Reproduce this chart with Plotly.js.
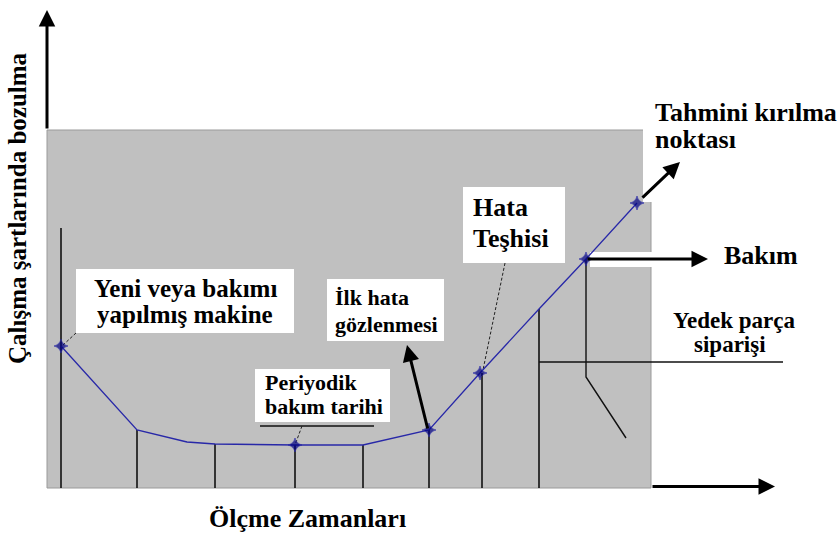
<!DOCTYPE html>
<html>
<head>
<meta charset="utf-8">
<script src="https://cdn.plot.ly/plotly-3.0.1.min.js"></script>
</head>
<body style="margin:0;padding:0;background:#fff;">
<div id="chart"></div>
<script>
// ---- data (units: time along x, degradation along y) ----
const curveX = [1.4, 9.0, 14.0, 16.8, 24.8, 31.6, 38.2, 43.3, 49.2, 53.9, 59.0];
const curveY = [14.2, 5.8, 4.6, 4.4, 4.3, 4.3, 5.8, 11.5, 17.9, 22.9, 28.5];
const markerShown = [1, 0, 0, 0, 1, 0, 1, 1, 0, 1, 1];

const dropX = [1.4, 9.0, 16.8, 24.8, 31.6, 38.2, 43.5, 49.2];
const dropTop = [26.0, 5.8, 4.4, 4.3, 4.3, 5.8, 11.5, 17.9];

const maintLegX = [53.9, 53.9, 57.9];
const maintLegY = [22.9, 11.1, 5.0];
const spareLineX = [49.2, 73.6];
const spareLineY = [12.6, 12.6];
const periodLineX = [21.3, 32.7];
const periodLineY = [6.2, 6.2];

const leaderX = [2.9, 1.5, null, 25.5, 24.8, null, 45.8, 43.6];
const leaderY = [15.5, 14.2, null, 6.2, 4.3, null, 22.5, 11.8];

const plotArea = {x0: 0, x1: 60.4, y0: 0, y1: 35.8};

// arrows: tail -> head
const arrowTailX = [0, 60.4, 38.1, 59.4, 53.9];
const arrowTailY = [35.8, 0.15, 5.8, 28.9, 22.9];
const arrowHeadX = [0, 72.8, 36.0, 63.3, 66.1];
const arrowHeadY = [47.8, 0.15, 14.3, 32.6, 22.9];

// white label boxes [x0, x1, y0, y1]
const boxX0 = [2.9, 28.0, 20.8, 41.6, 59.6, 54.3];
const boxX1 = [24.7, 39.7, 34.3, 51.8, 80.0, 60.7];
const boxY0 = [15.5, 14.7, 6.6, 22.5, 28.6, 22.1];
const boxY1 = [21.9, 20.9, 11.9, 30.1, 36.5, 23.6];

// labels
const labelText = ['Yeni veya bakımı', 'yapılmış makine', 'İlk hata', 'gözlenmesi',
  'Periyodik', 'bakım tarihi', 'Hata', 'Teşhisi', 'Tahmini kırılma', 'noktası',
  'Bakım', 'Yedek parça', 'siparişi'];
const labelX = [13.8, 13.8, 28.6, 28.6, 21.6, 21.6, 42.4, 42.4, 60.6, 60.6, 67.5, 68.75, 68.3];
const labelY = [19.98, 17.38, 19.07, 16.37, 10.57, 8.17, 28.01, 24.91, 37.51, 34.81, 23.21, 16.8, 14.4];
const labelAlign = ['center', 'center', 'left', 'left', 'left', 'left', 'left', 'left', 'left', 'left', 'left', 'center', 'center'];
const labelSize = [25, 25, 22, 22, 22, 22, 26, 26, 26, 26, 26, 23, 23];

const xTitle = 'Ölçme Zamanları';
const yTitle = 'Çalışma şartlarında bozulma';

// ---- build ----
const FONT = 'Liberation Serif';

const dropLX = [], dropLY = [];
dropX.forEach((x, i) => { dropLX.push(x, x, null); dropLY.push(0, dropTop[i], null); });

const traces = [
  {x: dropLX, y: dropLY, mode: 'lines', line: {color: '#111', width: 1.6}, hoverinfo: 'skip'},
  {x: maintLegX, y: maintLegY, mode: 'lines', line: {color: '#111', width: 1.4}, hoverinfo: 'skip'},
  {x: spareLineX, y: spareLineY, mode: 'lines', line: {color: '#111', width: 1.4}, hoverinfo: 'skip'},
  {x: periodLineX, y: periodLineY, mode: 'lines', line: {color: '#111', width: 1.6}, hoverinfo: 'skip'},
  {x: leaderX, y: leaderY, mode: 'lines', line: {color: '#222', width: 1, dash: '3px,2px'}, hoverinfo: 'skip'},
  {x: curveX, y: curveY, mode: 'lines+markers', line: {color: '#2828a8', width: 1.3},
   marker: {symbol: 'star-diamond', size: markerShown.map(m => m ? 10 : 0), color: '#000080'},
   cliponaxis: false, hoverinfo: 'skip'}
];

const shapes = [{type: 'rect', xref: 'x', yref: 'y', layer: 'below',
  x0: plotArea.x0, x1: plotArea.x1, y0: plotArea.y0, y1: plotArea.y1,
  fillcolor: '#c0c0c0', line: {color: '#9a9a9a', width: 1}}];
boxX0.forEach((x0, i) => shapes.push({type: 'rect', xref: 'x', yref: 'y', layer: 'below',
  x0: x0, x1: boxX1[i], y0: boxY0[i], y1: boxY1[i], fillcolor: '#ffffff', line: {width: 0}}));

const annotations = [];
arrowHeadX.forEach((hx, i) => annotations.push({
  x: hx, y: arrowHeadY[i], ax: arrowTailX[i], ay: arrowTailY[i],
  xref: 'x', yref: 'y', axref: 'x', ayref: 'y', text: '', showarrow: true,
  arrowhead: 2, arrowsize: 1.1, arrowwidth: 3, arrowcolor: '#000', standoff: 0, startstandoff: 0}));
labelText.forEach((t, i) => annotations.push({
  x: labelX[i], y: labelY[i], xref: 'x', yref: 'y', text: '<b>' + t + '</b>', showarrow: false,
  xanchor: labelAlign[i], yanchor: 'middle', font: {family: FONT, size: labelSize[i], color: '#000000'}}));
annotations.push({x: 26.05, y: -3.09, xref: 'x', yref: 'y', text: '<b>' + xTitle + '</b>', showarrow: false,
  xanchor: 'center', yanchor: 'middle', font: {family: FONT, size: 26, color: '#000000'}});
annotations.push({x: -3.0, y: 28.0, xref: 'x', yref: 'y', text: '<b>' + yTitle + '</b>', showarrow: false,
  textangle: -90, xanchor: 'center', yanchor: 'middle', font: {family: FONT, size: 25, color: '#000000'}});

const axisCommon = {visible: false, showgrid: false, zeroline: false, fixedrange: true};
const layout = {
  width: 839, height: 536,
  margin: {l: 0, r: 0, t: 0, b: 0},
  paper_bgcolor: '#ffffff', plot_bgcolor: '#ffffff',
  showlegend: false,
  xaxis: Object.assign({range: [-4.7, 79.2], title: {text: ''}}, axisCommon),
  yaxis: Object.assign({range: [-4.8, 48.8], title: {text: ''}}, axisCommon),
  shapes: shapes,
  annotations: annotations
};

Plotly.newPlot('chart', traces, layout, {displayModeBar: false});
</script>
</body>
</html>
